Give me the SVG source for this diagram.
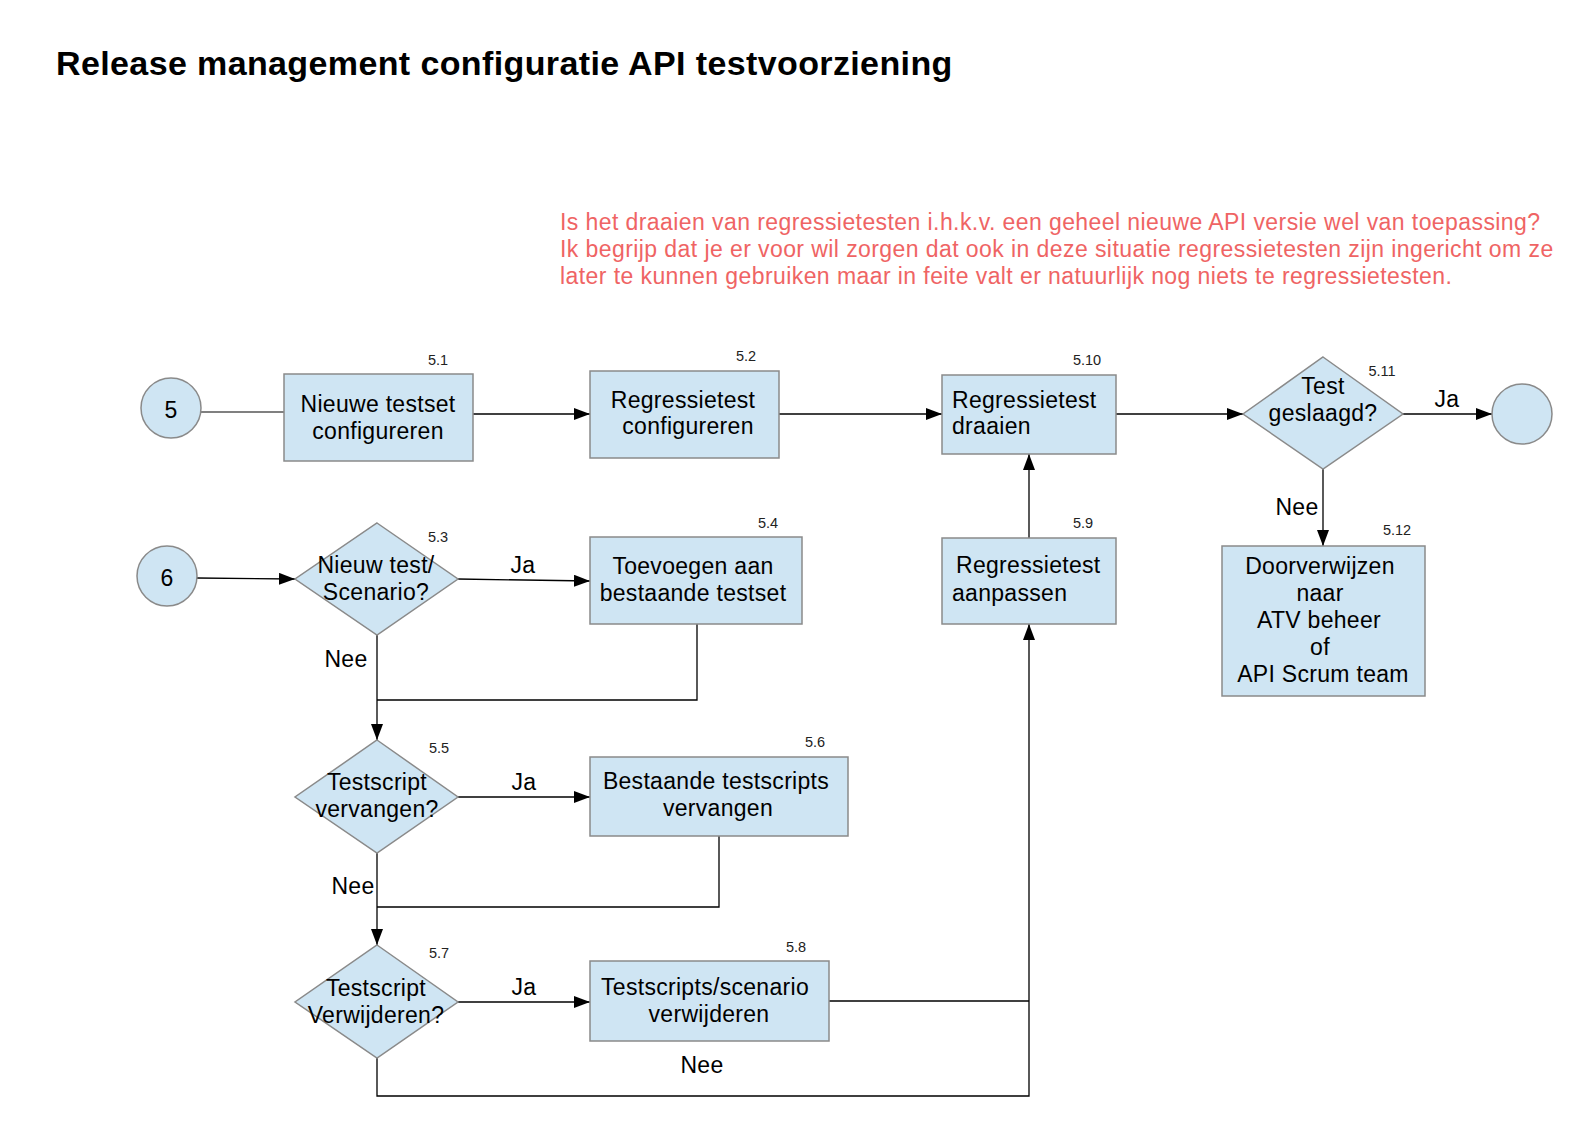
<svg xmlns="http://www.w3.org/2000/svg" width="1588" height="1123" viewBox="0 0 1588 1123">
<style>
.bg{fill:#ffffff}
.shape{fill:#cfe5f3;stroke:#8a8a8a;stroke-width:1.5}
.t{font-family:"Liberation Sans",Arial,sans-serif;font-size:23px;letter-spacing:0.3px;fill:#000}
.c{text-anchor:middle}
.num{font-family:"Liberation Sans",Arial,sans-serif;font-size:14.5px;fill:#222;text-anchor:middle}
.title{font-family:"Liberation Sans",Arial,sans-serif;font-size:34px;font-weight:bold;letter-spacing:0.38px;fill:#000}
.note{font-family:"Liberation Sans",Arial,sans-serif;font-size:23px;letter-spacing:0.42px;fill:#ef6464}
.ln{fill:none;stroke:#000;stroke-width:1.3}
.gl{fill:none;stroke:#808080;stroke-width:2}
.arr{marker-end:url(#ah)}
</style>
<defs>
<marker id="ah" viewBox="0 0 16 12" refX="16" refY="6" markerWidth="16" markerHeight="12" markerUnits="userSpaceOnUse" orient="auto">
<path d="M0,0 L16,6 L0,12 z" fill="#000"/>
</marker>
</defs>
<rect class="bg" x="0" y="0" width="1588" height="1123"/>
<text class="title" x="56" y="75">Release management configuratie API testvoorziening</text>
<g id="note">
<text class="note" x="560" y="230">Is het draaien van regressietesten i.h.k.v. een geheel nieuwe API versie wel van toepassing?</text>
<text class="note" x="560" y="257">Ik begrijp dat je er voor wil zorgen dat ook in deze situatie regressietesten zijn ingericht om ze</text>
<text class="note" x="560" y="284">later te kunnen gebruiken maar in feite valt er natuurlijk nog niets te regressietesten.</text>
</g>
<g id="connectors">
<line class="gl" x1="201" y1="412" x2="284" y2="412"/>
<line class="ln arr" x1="473" y1="414" x2="590" y2="414"/>
<line class="ln arr" x1="779" y1="414" x2="942" y2="414"/>
<line class="ln arr" x1="1116" y1="414" x2="1243" y2="414"/>
<line class="ln arr" x1="1403" y1="414" x2="1492" y2="414"/>
<line class="ln arr" x1="1323" y1="469" x2="1323" y2="546"/>
<line class="ln arr" x1="197" y1="578" x2="295" y2="579"/>
<line class="ln arr" x1="458" y1="579" x2="590" y2="581"/>
<line class="ln arr" x1="377" y1="635" x2="377" y2="740"/>
<polyline class="ln" points="697,624 697,700 377,700"/>
<line class="ln arr" x1="458" y1="797" x2="590" y2="797"/>
<line class="ln arr" x1="377" y1="853" x2="377" y2="945"/>
<polyline class="ln" points="719,836 719,907 377,907"/>
<line class="ln arr" x1="458" y1="1002" x2="590" y2="1002"/>
<line class="ln" x1="829" y1="1001" x2="1029" y2="1001"/>
<polyline class="ln arr" points="377,1058 377,1096 1029,1096 1029,624"/>
<line class="ln arr" x1="1029" y1="538" x2="1029" y2="454"/>
<text class="t c" x="523" y="573">Ja</text>
<text class="t c" x="346" y="667">Nee</text>
<text class="t c" x="524" y="790">Ja</text>
<text class="t c" x="353" y="894">Nee</text>
<text class="t c" x="524" y="995">Ja</text>
<text class="t c" x="702" y="1073">Nee</text>
<text class="t c" x="1447" y="407">Ja</text>
<text class="t c" x="1297" y="515">Nee</text>
</g>
<g id="start5">
<circle class="shape" cx="171" cy="408" r="30"/>
<text class="t c" x="171" y="418">5</text>
</g>
<g id="n5_1">
<rect class="shape" x="284" y="374" width="189" height="87"/>
<text class="num" x="438" y="365">5.1</text>
<text class="t c" x="378" y="412">Nieuwe testset</text>
<text class="t c" x="378" y="439">configureren</text>
</g>
<g id="n5_2">
<rect class="shape" x="590" y="371" width="189" height="87"/>
<text class="num" x="746" y="361">5.2</text>
<text class="t c" x="683" y="408">Regressietest</text>
<text class="t c" x="688" y="434">configureren</text>
</g>
<g id="n5_10">
<rect class="shape" x="942" y="375" width="174" height="79"/>
<text class="num" x="1087" y="365">5.10</text>
<text class="t" x="952" y="408">Regressietest</text>
<text class="t" x="952" y="434">draaien</text>
</g>
<g id="n5_11">
<polygon class="shape" points="1323,357 1403,414 1323,469 1243,414"/>
<text class="num" x="1382" y="376">5.11</text>
<text class="t c" x="1323" y="394">Test</text>
<text class="t c" x="1323" y="421">geslaagd?</text>
</g>
<g id="end">
<circle class="shape" cx="1522" cy="414" r="30"/>
</g>
<g id="n5_12">
<rect class="shape" x="1222" y="546" width="203" height="150"/>
<text class="num" x="1397" y="535">5.12</text>
<text class="t c" x="1320" y="574">Doorverwijzen</text>
<text class="t c" x="1320" y="601">naar</text>
<text class="t c" x="1319" y="628">ATV beheer</text>
<text class="t c" x="1320" y="655">of</text>
<text class="t c" x="1323" y="682">API Scrum team</text>
</g>
<g id="start6">
<circle class="shape" cx="167" cy="576" r="30"/>
<text class="t c" x="167" y="586">6</text>
</g>
<g id="n5_3">
<polygon class="shape" points="377,523 458,579 377,635 295,579"/>
<text class="num" x="438" y="542">5.3</text>
<text class="t c" x="376" y="573">Nieuw test/</text>
<text class="t c" x="376" y="600">Scenario?</text>
</g>
<g id="n5_4">
<rect class="shape" x="590" y="537" width="212" height="87"/>
<text class="num" x="768" y="528">5.4</text>
<text class="t c" x="693" y="574">Toevoegen aan</text>
<text class="t c" x="693" y="601">bestaande testset</text>
</g>
<g id="n5_5">
<polygon class="shape" points="377,740 458,797 377,853 295,797"/>
<text class="num" x="439" y="753">5.5</text>
<text class="t c" x="377" y="790">Testscript</text>
<text class="t c" x="377" y="817">vervangen?</text>
</g>
<g id="n5_6">
<rect class="shape" x="590" y="757" width="258" height="79"/>
<text class="num" x="815" y="747">5.6</text>
<text class="t c" x="716" y="789">Bestaande testscripts</text>
<text class="t c" x="718" y="816">vervangen</text>
</g>
<g id="n5_7">
<polygon class="shape" points="377,945 458,1002 377,1058 295,1002"/>
<text class="num" x="439" y="958">5.7</text>
<text class="t c" x="376" y="996">Testscript</text>
<text class="t c" x="376" y="1023">Verwijderen?</text>
</g>
<g id="n5_8">
<rect class="shape" x="590" y="961" width="239" height="80"/>
<text class="num" x="796" y="952">5.8</text>
<text class="t c" x="705" y="995">Testscripts/scenario</text>
<text class="t c" x="709" y="1022">verwijderen</text>
</g>
<g id="n5_9">
<rect class="shape" x="942" y="538" width="174" height="86"/>
<text class="num" x="1083" y="528">5.9</text>
<text class="t" x="956" y="573">Regressietest</text>
<text class="t" x="952" y="601">aanpassen</text>
</g>
</svg>
